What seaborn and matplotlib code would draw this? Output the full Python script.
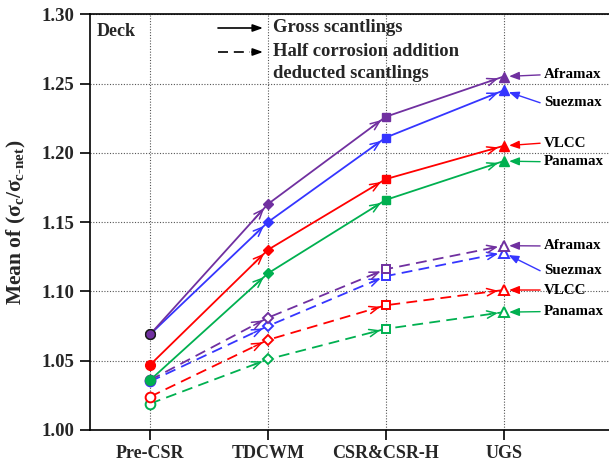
import matplotlib
matplotlib.use("Agg")
import matplotlib.pyplot as plt
import seaborn as sns
import pandas as pd
import numpy as np

# ---------------- data ----------------
stages = ["Pre-CSR", "TDCWM", "CSR&CSR-H", "UGS"]
ships = ["Aframax", "Suezmax", "VLCC", "Panamax"]

gross_aframax = [1.069, 1.163, 1.226, 1.255]
gross_suezmax = [1.069, 1.150, 1.211, 1.245]
gross_vlcc = [1.047, 1.130, 1.181, 1.205]
gross_panamax = [1.036, 1.113, 1.166, 1.194]

half_aframax = [1.036, 1.081, 1.116, 1.133]
half_suezmax = [1.035, 1.075, 1.111, 1.128]
half_vlcc = [1.024, 1.065, 1.090, 1.101]
half_panamax = [1.019, 1.051, 1.073, 1.085]

y_ticks = [1.00, 1.05, 1.10, 1.15, 1.20, 1.25, 1.30]
y_tick_labels = ["1.00", "1.05", "1.10", "1.15", "1.20", "1.25", "1.30"]

gross = {"Aframax": gross_aframax, "Suezmax": gross_suezmax,
         "VLCC": gross_vlcc, "Panamax": gross_panamax}
half = {"Aframax": half_aframax, "Suezmax": half_suezmax,
        "VLCC": half_vlcc, "Panamax": half_panamax}

# ---------------- style ----------------
sns.set_theme(style="white")
plt.rcParams["font.family"] = ["Liberation Serif", "DejaVu Serif"]
plt.rcParams["font.weight"] = "bold"
plt.rcParams["mathtext.fontset"] = "custom"
plt.rcParams["mathtext.rm"] = "Liberation Serif:bold"
plt.rcParams["mathtext.it"] = "Liberation Serif:bold"
plt.rcParams["mathtext.bf"] = "Liberation Serif:bold"

colors = {"Aframax": "#7030A0", "Suezmax": "#3535FF",
          "VLCC": "#FF0000", "Panamax": "#00B050"}
stage_markers = ["o", "D", "s", "^"]
stage_msize = [7, 5.5, 6, 7]

rows = []
for scant, d in (("Gross", gross), ("Half", half)):
    for s in ships:
        for i, st in enumerate(stages):
            rows.append({"pos": i, "stage": st, "ship": s, "scant": scant, "value": d[s][i]})
df = pd.DataFrame(rows)

fig = plt.figure(figsize=(6.09, 4.70), dpi=100)
ax = fig.add_axes([90 / 609, 40 / 470, 1 - 90 / 609 + 0.002, (430 - 14.2) / 470])

draw_order = ["Panamax", "VLCC", "Suezmax", "Aframax"]
sns.lineplot(data=df, x="pos", y="value", hue="ship", style="scant",
             hue_order=draw_order, style_order=["Gross", "Half"],
             palette=colors, dashes={"Gross": "", "Half": (6, 3.5)},
             linewidth=1.3, legend=False, sort=False, estimator=None,
             units=None, ax=ax)

# arrowheads along each segment
for scant, d in (("Gross", gross), ("Half", half)):
    for s in draw_order:
        v = d[s]
        for i in range(len(stages) - 1):
            x0, y0, x1, y1 = i, v[i], i + 1, v[i + 1]
            f = 0.88
            ax.annotate("", xy=(x1, y1), xytext=(x0 + f * (x1 - x0), y0 + f * (y1 - y0)),
                        arrowprops=dict(arrowstyle="->,head_length=0.55,head_width=0.22",
                                        color=colors[s], lw=1.1, shrinkA=0, shrinkB=4),
                        zorder=3)

# markers
for scant, d in (("Half", half), ("Gross", gross)):
    for s in draw_order:
        v = d[s]
        for i in range(len(stages)):
            if scant == "Gross":
                ec = "#1a1a1a" if (i == 0 and s in ("Aframax", "Suezmax")) else colors[s]
                ax.plot(i, v[i], marker=stage_markers[i], ms=stage_msize[i],
                        mfc=colors[s], mec=ec, mew=1.0, ls="none", zorder=5)
            else:
                ax.plot(i, v[i], marker=stage_markers[i], ms=stage_msize[i],
                        mfc="white", mec=colors[s], mew=1.4, ls="none", zorder=4)

# axes formatting
ax.set_xlim(-0.51, 3.905)
ax.set_ylim(1.0, 1.30)
ax.set_xticks(range(len(stages)))
ax.set_xticklabels(stages, fontsize=13, fontweight="bold")
ax.set_yticks(y_ticks)
ax.set_yticklabels(y_tick_labels, fontsize=13.5, fontweight="bold")
ax.set_xlabel("")
ax.set_ylabel(r"Mean of ($\sigma_{\text{c}}$/$\sigma_{\text{c-net}}$)", fontsize=15.5,
              fontweight="bold", labelpad=10)
ax.tick_params(axis="both", direction="out", length=7, width=1.2, color="black",
               bottom=True, left=True, pad=4)
for sp in ("left", "bottom", "top"):
    ax.spines[sp].set_color("black")
    ax.spines[sp].set_linewidth(1.2)
ax.spines["right"].set_visible(False)
ax.grid(True, axis="both", color="#555555", linestyle=(0, (1, 1.5)), linewidth=0.8)
ax.set_axisbelow(True)

# series labels with arrows
label_pos_gross = {"Aframax": 1.2562, "Suezmax": 1.2361, "VLCC": 1.2069, "Panamax": 1.1936}
label_pos_half = {"Aframax": 1.1328, "Suezmax": 1.1149, "VLCC": 1.1010, "Panamax": 1.0854}
for lp, d in ((label_pos_gross, gross), (label_pos_half, half)):
    for s in ships:
        ax.text(3.345, lp[s], s, fontsize=10.8, fontweight="bold", va="center",
                ha="left", color="black")
        ax.annotate("", xy=(3.0, d[s][3]), xytext=(3.31, lp[s]),
                    arrowprops=dict(arrowstyle="-|>,head_length=0.5,head_width=0.2",
                                    color=colors[s], lw=1.0, shrinkA=0, shrinkB=4),
                    zorder=6)

# top-left legend
def px(x, y):
    return (x / 609, 1 - y / 470)

fig.text(*px(97, 32), "Deck", fontsize=13, fontweight="bold", va="center", ha="left")
ax.annotate("", xy=px(263, 28), xytext=px(218, 28), xycoords="figure fraction",
            textcoords="figure fraction",
            arrowprops=dict(arrowstyle="-|>,head_length=0.5,head_width=0.18",
                            color="black", lw=1.2, shrinkA=0, shrinkB=0))
ax.plot([218 / 609, 250 / 609], [1 - 52 / 470] * 2, transform=fig.transFigure,
        color="black", lw=1.2, dashes=(6, 3.5), clip_on=False)
ax.annotate("", xy=px(263, 52), xytext=px(252, 52), xycoords="figure fraction",
            textcoords="figure fraction",
            arrowprops=dict(arrowstyle="-|>,head_length=0.5,head_width=0.18",
                            color="black", lw=1.2, shrinkA=0, shrinkB=0))
fig.text(*px(273, 28), "Gross scantlings", fontsize=13.4, fontweight="bold", va="center")
fig.text(*px(273, 52), "Half corrosion addition", fontsize=13.4, fontweight="bold", va="center")
fig.text(*px(273, 74), "deducted scantlings", fontsize=13.4, fontweight="bold", va="center")

fig.savefig("out.png", dpi=100)
